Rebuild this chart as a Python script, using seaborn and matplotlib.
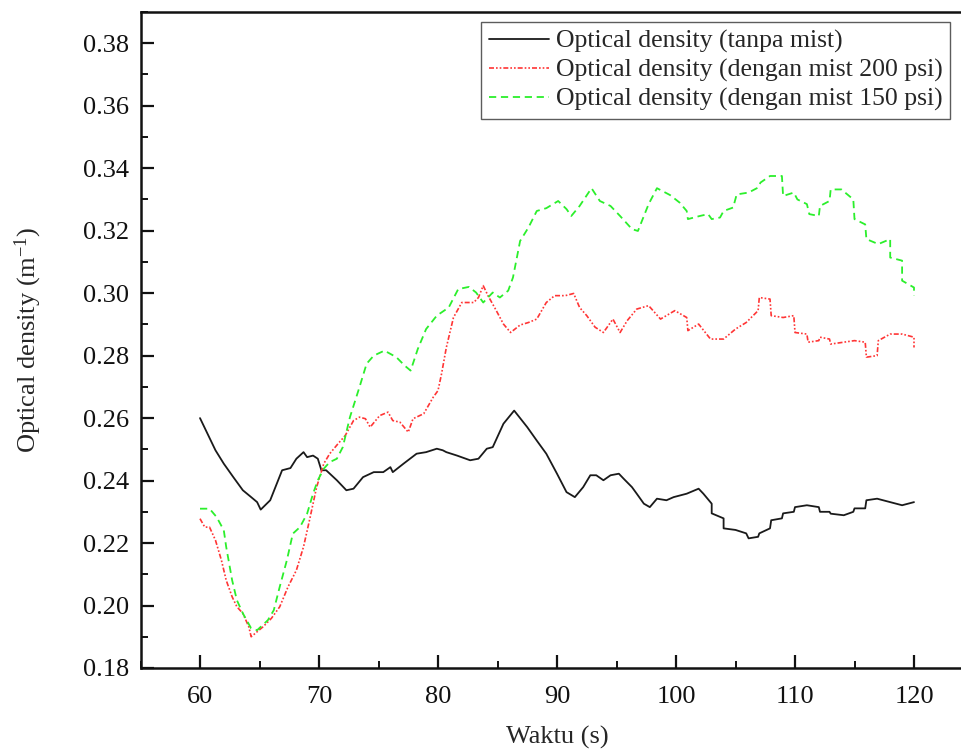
import matplotlib
matplotlib.use("Agg")
import matplotlib.pyplot as plt
from matplotlib.ticker import MultipleLocator
import pandas as pd
import seaborn as sns

# --- data -------------------------------------------------------------
series_labels = [
    "Optical density (tanpa mist)",
    "Optical density (dengan mist 200 psi)",
    "Optical density (dengan mist 150 psi)",
]

t_tanpa = [60.0, 61.3, 62.0, 62.8, 63.6, 64.3, 64.8, 65.1, 65.9, 66.9, 67.6,
           68.1, 68.7, 69.0, 69.5, 69.9, 70.2, 70.6, 71.5, 72.3, 72.9, 73.7,
           74.6, 75.4, 76.0, 76.2, 77.1, 78.2, 79.0, 79.9, 80.4, 80.7, 81.6,
           82.7, 83.4, 84.1, 84.6, 85.5, 86.4, 87.5, 88.3, 89.1, 90.0, 90.8,
           91.5, 92.2, 92.8, 93.3, 93.9, 94.5, 95.2, 95.6, 96.3, 96.7, 97.3,
           97.8, 98.4, 99.2, 99.8, 100.9, 101.9, 102.3, 103.0, 103.0, 104.0,
           104.0, 105.0, 105.9, 106.1, 106.9, 107.0, 107.9, 108.0, 108.9,
           109.0, 109.9, 110.0, 111.0, 112.0, 112.1, 112.9, 113.0, 114.1,
           114.9, 115.0, 115.9, 116.0, 116.9, 118.0, 119.0, 120.0]
od_tanpa = [0.2600, 0.2497, 0.2454, 0.2411, 0.2369, 0.2347, 0.2331, 0.2307,
            0.2337, 0.2433, 0.2440, 0.2470, 0.2491, 0.2475, 0.2480, 0.2470,
            0.2433, 0.2433, 0.2401, 0.2369, 0.2374, 0.2411, 0.2427, 0.2427,
            0.2443, 0.2427, 0.2454, 0.2486, 0.2491, 0.2502, 0.2497, 0.2491,
            0.2480, 0.2465, 0.2470, 0.2502, 0.2507, 0.2582, 0.2624, 0.2571,
            0.2528, 0.2486, 0.2422, 0.2363, 0.2347, 0.2379, 0.2417, 0.2417,
            0.2401, 0.2417, 0.2422, 0.2406, 0.2379, 0.2358, 0.2326, 0.2315,
            0.2342, 0.2337, 0.2347, 0.2358, 0.2374, 0.2358, 0.2326, 0.2295,
            0.2279, 0.2247, 0.2242, 0.2231, 0.2215, 0.2220, 0.2231, 0.2247,
            0.2273, 0.2279, 0.2295, 0.2300, 0.2315, 0.2321, 0.2315, 0.2300,
            0.2300, 0.2294, 0.2289, 0.2300, 0.2311, 0.2311, 0.2337, 0.2342,
            0.2331, 0.2321, 0.2331]

t_200 = [60.0, 60.4, 60.8, 61.3, 61.8, 62.2, 62.7, 63.1, 63.6, 64.1, 64.3,
         64.8, 65.3, 66.0, 66.7, 67.4, 68.1, 68.7, 69.2, 69.8, 70.4, 70.9,
         71.6, 72.2, 72.9, 73.4, 73.9, 74.3, 75.1, 75.8, 76.2, 76.8, 77.5,
         77.9, 78.8, 79.6, 80.0, 80.3, 80.7, 81.3, 82.0, 83.0, 83.4, 83.8,
         84.2, 84.9, 85.5, 86.1, 86.9, 87.6, 88.3, 89.1, 89.8, 90.7, 91.4,
         91.9, 92.5, 93.2, 93.9, 94.7, 95.3, 95.9, 96.7, 97.7, 98.7, 99.9,
         100.9, 101.0, 101.9, 102.9, 104.0, 105.0, 105.9, 106.9, 107.0,
         107.9, 108.0, 109.0, 109.9, 110.0, 111.0, 111.1, 112.0, 112.1,
         112.9, 113.0, 114.1, 115.0, 115.9, 116.0, 116.9, 117.0, 118.0,
         119.0, 120.0, 120.0]
od_200 = [0.2278, 0.2251, 0.2251, 0.2209, 0.2145, 0.2081, 0.2028, 0.1996,
          0.1975, 0.1932, 0.1900, 0.1916, 0.1932, 0.1959, 0.1996, 0.2060,
          0.2113, 0.2188, 0.2273, 0.2379, 0.2454, 0.2486, 0.2518, 0.2544,
          0.2592, 0.2603, 0.2598, 0.2571, 0.2608, 0.2619, 0.2592, 0.2587,
          0.2555, 0.2598, 0.2614, 0.2667, 0.2688, 0.2742, 0.2826, 0.2922,
          0.2970, 0.2970, 0.2986, 0.3024, 0.2992, 0.2944, 0.2901, 0.2874,
          0.2898, 0.2906, 0.2917, 0.2970, 0.2992, 0.2992, 0.2999, 0.2954,
          0.2928, 0.2891, 0.2874, 0.2917, 0.2874, 0.2912, 0.2949, 0.2960,
          0.2917, 0.2944, 0.2922, 0.2880, 0.2901, 0.2853, 0.2853, 0.2885,
          0.2906, 0.2944, 0.2986, 0.2981, 0.2928, 0.2922, 0.2928, 0.2874,
          0.2869, 0.2843, 0.2848, 0.2859, 0.2853, 0.2837, 0.2843, 0.2848,
          0.2843, 0.2795, 0.2800, 0.2848, 0.2869, 0.2869, 0.2859, 0.2826]

t_150 = [60.0, 60.8, 61.4, 62.0, 62.2, 62.7, 63.1, 63.6, 64.3, 64.8, 65.7,
         66.2, 66.7, 67.3, 67.8, 68.4, 69.0, 69.5, 69.9, 70.4, 70.9, 71.5,
         72.0, 72.6, 73.4, 74.0, 74.6, 75.5, 76.5, 77.2, 77.7, 78.3, 79.0,
         79.9, 80.9, 81.7, 82.6, 83.2, 83.8, 84.6, 85.2, 85.9, 86.3, 86.9,
         87.6, 88.3, 89.1, 90.1, 90.8, 91.2, 91.9, 92.9, 93.6, 94.5, 95.3,
         96.3, 96.8, 97.7, 98.4, 99.5, 100.3, 100.9, 101.0, 102.0, 102.7,
         103.0, 103.7, 104.0, 104.8, 105.1, 106.1, 106.9, 107.1, 107.9,
         108.9, 109.0, 109.9, 110.2, 111.0, 111.2, 112.0, 112.1, 112.9,
         113.0, 113.9, 114.9, 115.0, 115.9, 116.0, 117.0, 118.0, 118.0,
         119.0, 119.0, 120.0, 120.0]
od_150 = [0.2310, 0.2310, 0.2283, 0.2241, 0.2188, 0.2081, 0.2017, 0.1975,
          0.1927, 0.1921, 0.1953, 0.1985, 0.2060, 0.2145, 0.2230, 0.2251,
          0.2294, 0.2358, 0.2401, 0.2438, 0.2459, 0.2470, 0.2507, 0.2603,
          0.2699, 0.2774, 0.2800, 0.2816, 0.2795, 0.2768, 0.2752, 0.2821,
          0.2885, 0.2928, 0.2954, 0.3013, 0.3020, 0.3002, 0.2970, 0.3002,
          0.2986, 0.3008, 0.3050, 0.3167, 0.3210, 0.3263, 0.3272, 0.3295,
          0.3269, 0.3247, 0.3279, 0.3336, 0.3295, 0.3279, 0.3247, 0.3205,
          0.3199, 0.3285, 0.3336, 0.3314, 0.3290, 0.3263, 0.3237, 0.3247,
          0.3253, 0.3237, 0.3242, 0.3263, 0.3274, 0.3316, 0.3322, 0.3338,
          0.3354, 0.3375, 0.3375, 0.3311, 0.3322, 0.3300, 0.3285, 0.3253,
          0.3247, 0.3279, 0.3295, 0.3332, 0.3332, 0.3300, 0.3237, 0.3220,
          0.3173, 0.3157, 0.3173, 0.3114, 0.3104, 0.3040, 0.3018, 0.2992]

x_ticks = [60, 70, 80, 90, 100, 110, 120]
y_ticks = [0.18, 0.20, 0.22, 0.24, 0.26, 0.28, 0.30, 0.32, 0.34, 0.36, 0.38]

# --- style ------------------------------------------------------------
sns.set_style("ticks")
plt.rcParams["font.family"] = ["Liberation Serif", "DejaVu Serif"]
plt.rcParams["mathtext.fontset"] = "custom"
plt.rcParams["mathtext.rm"] = "Liberation Serif"
plt.rcParams["mathtext.it"] = "Liberation Serif:italic"

frames = []
for lab, t, v in zip(series_labels, [t_tanpa, t_200, t_150],
                     [od_tanpa, od_200, od_150]):
    frames.append(pd.DataFrame({"Waktu": t, "OD": v, "seri": lab}))
df = pd.concat(frames, ignore_index=True)

fig = plt.figure(figsize=(9.61, 7.51), dpi=100)
W, H = 961, 751
left_px, right_px, top_px, bot_px = 140.5, 973.5, 12, 668
ax = fig.add_axes([left_px / W, 1 - bot_px / H,
                   (right_px - left_px) / W, (bot_px - top_px) / H])

colors = ["#1a1a1a", "#ff3535", "#2bef2b"]
styles = ["-", (0, (3, 1.2, 1, 1.2, 1, 1.2)), (0, (4, 2.6))]
widths = [1.3, 1.2, 1.3]
for lab, c, ls, lw in zip(series_labels, colors, styles, widths):
    sub = df[df["seri"] == lab]
    sns.lineplot(data=sub, x="Waktu", y="OD", ax=ax, color=c, linewidth=lw,
                 linestyle=ls, estimator=None, sort=False, label=lab)

ax.set_xlim(55, 125)
ax.set_ylim(0.18, 0.39)
ax.set_xticks(x_ticks)
ax.set_yticks(y_ticks)
ax.set_yticklabels([f"{v:.2f}" for v in y_ticks])
ax.xaxis.set_minor_locator(MultipleLocator(5))
ax.yaxis.set_minor_locator(MultipleLocator(0.01))
ax.tick_params(which="major", direction="in", length=9.5, width=1.6,
               labelsize=19, pad=8, colors="#111111")
ax.tick_params(which="minor", direction="in", length=5, width=1.4,
               colors="#111111")
ax.tick_params(axis="x", pad=13)
ax.tick_params(top=False, right=False, which="both")
for s in ["left", "bottom", "top", "right"]:
    ax.spines[s].set_linewidth(1.8)
    ax.spines[s].set_color("#111111")

ax.set_xlabel("Waktu (s)", fontsize=19, labelpad=13)
ax.set_ylabel(r"Optical density (m$^{\mathregular{-1}}$)", fontsize=19,
              labelpad=28)

anchor_x = (950 - left_px) / (right_px - left_px)
anchor_y = 1 - (22 - top_px) / (bot_px - top_px)
leg = ax.legend(loc="upper right", bbox_to_anchor=(anchor_x, anchor_y),
                fontsize=18.5, frameon=True, fancybox=False,
                handlelength=2.35, handletextpad=0.25, borderpad=0.3,
                labelspacing=0.22, borderaxespad=0.0)
leg.get_frame().set_edgecolor("#333333")
leg.get_frame().set_linewidth(1.0)

fig.savefig("out.png", dpi=100)
